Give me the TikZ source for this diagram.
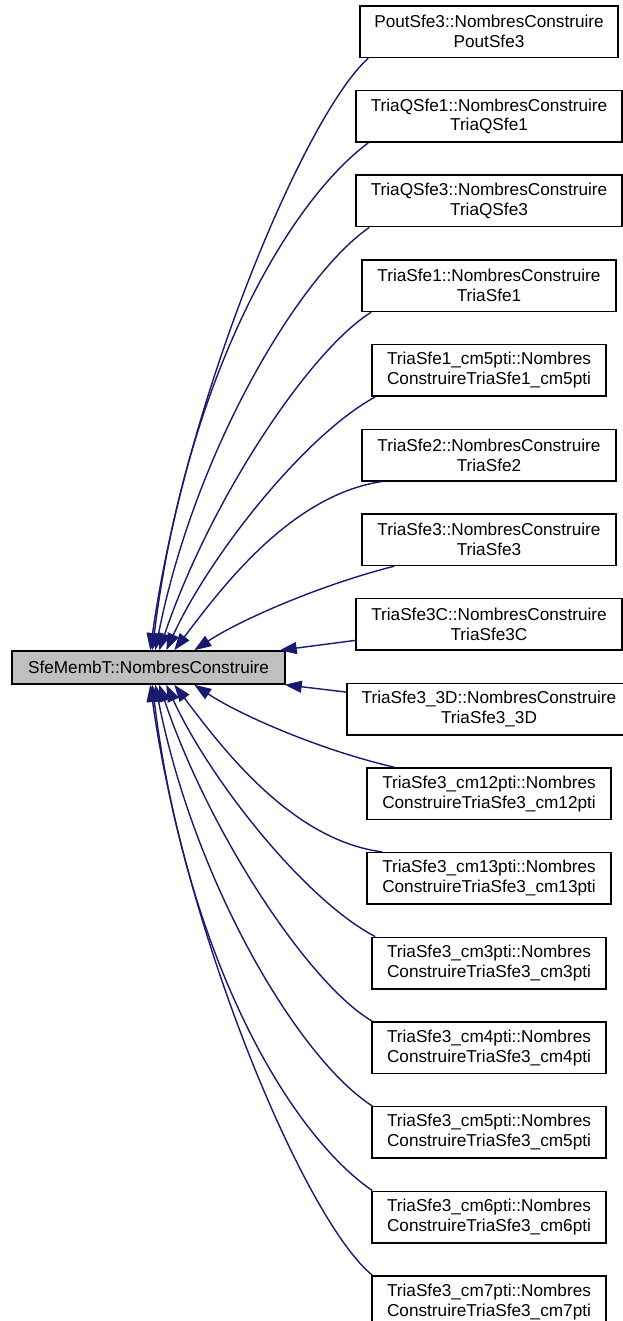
\documentclass[tikz,border=0pt]{standalone}
\usepackage{fontspec}
\setmainfont{Liberation Sans}
\usetikzlibrary{arrows.meta}
\definecolor{edgeblue}{HTML}{191970}
\begin{document}
\begin{tikzpicture}[x=1pt,y=-1pt,
  box/.style={draw=black, line width=1.5pt, fill=white, minimum height=51.5pt,
    inner sep=0pt, align=center, font=\fontsize{17.2pt}{19.8pt}\selectfont},
  focus/.style={box, fill=black!25, minimum height=33pt, minimum width=273pt},
  call/.style={draw=edgeblue, line width=1.4pt, -{Triangle[length=17pt,width=12pt]}}
]
\useasboundingbox[fill=white] (0,0) rectangle (622,1321);

% the called function
\node[focus] (m) at (148.5,667.5) {SfeMembT::NombresConstruire};

% callers, one column
\node[box, minimum width=258pt] (b1)  at (489,31.7)   {PoutSfe3::NombresConstruire\\PoutSfe3};
\node[box, minimum width=266pt] (b2)  at (489,116.4)  {TriaQSfe1::NombresConstruire\\TriaQSfe1};
\node[box, minimum width=266pt] (b3)  at (489,201.0)  {TriaQSfe3::NombresConstruire\\TriaQSfe3};
\node[box, minimum width=254pt] (b4)  at (489,285.7)  {TriaSfe1::NombresConstruire\\TriaSfe1};
\node[box, minimum width=234pt] (b5)  at (489,370.4)  {TriaSfe1\_cm5pti::Nombres\\ConstruireTriaSfe1\_cm5pti};
\node[box, minimum width=254pt] (b6)  at (489,455.0)  {TriaSfe2::NombresConstruire\\TriaSfe2};
\node[box, minimum width=254pt] (b7)  at (489,539.7)  {TriaSfe3::NombresConstruire\\TriaSfe3};
\node[box, minimum width=266pt] (b8)  at (489,624.4)  {TriaSfe3C::NombresConstruire\\TriaSfe3C};
\node[box, minimum width=284pt] (b9)  at (489,709.1)  {TriaSfe3\_3D::NombresConstruire\\TriaSfe3\_3D};
\node[box, minimum width=244pt] (b10) at (489,793.7)  {TriaSfe3\_cm12pti::Nombres\\ConstruireTriaSfe3\_cm12pti};
\node[box, minimum width=244pt] (b11) at (489,878.4)  {TriaSfe3\_cm13pti::Nombres\\ConstruireTriaSfe3\_cm13pti};
\node[box, minimum width=234pt] (b12) at (489,963.1)  {TriaSfe3\_cm3pti::Nombres\\ConstruireTriaSfe3\_cm3pti};
\node[box, minimum width=234pt] (b13) at (489,1047.7) {TriaSfe3\_cm4pti::Nombres\\ConstruireTriaSfe3\_cm4pti};
\node[box, minimum width=234pt] (b14) at (489,1132.4) {TriaSfe3\_cm5pti::Nombres\\ConstruireTriaSfe3\_cm5pti};
\node[box, minimum width=234pt] (b15) at (489,1217.1) {TriaSfe3\_cm6pti::Nombres\\ConstruireTriaSfe3\_cm6pti};
\node[box, minimum width=234pt] (b16) at (489,1301.7) {TriaSfe3\_cm7pti::Nombres\\ConstruireTriaSfe3\_cm7pti};

% calls from above
\draw[call] ([xshift=9pt]b1.south west)  .. controls (305,115) and (185,400) .. ([xshift=139pt]m.north west);
\draw[call] ([xshift=13pt]b2.south west) .. controls (285,205) and (185,385) .. ([xshift=141pt]m.north west);
\draw[call] ([xshift=14pt]b3.south west) .. controls (300,275) and (195,450) .. ([xshift=144pt]m.north west);
\draw[call] ([xshift=10pt]b4.south west) .. controls (310,350) and (210,500) .. ([xshift=148pt]m.north west);
\draw[call] ([xshift=4pt]b5.south west)  .. controls (305,435) and (210,555) .. ([xshift=155pt]m.north west);
\draw[call] ([xshift=21pt]b6.south west) .. controls (290,495) and (220,590) .. ([xshift=163pt]m.north west);
\draw[call] ([xshift=33pt]b7.south west) .. controls (320,585) and (240,620) .. ([xshift=183pt]m.north west);
% nearly level calls
\draw[call] ([yshift=-16pt]b8.west) -- ([xshift=-6pt]m.north east);
\draw[call] ([yshift=17pt]b9.west)  -- ([xshift=-1pt]m.south east);
% calls from below
\draw[call] ([xshift=28pt]b10.north west) .. controls (320,750) and (240,715) .. ([xshift=183pt]m.south west);
\draw[call] ([xshift=16pt]b11.north west) .. controls (290,840) and (220,745) .. ([xshift=163pt]m.south west);
\draw[call] ([xshift=4pt]b12.north west)  .. controls (305,900) and (210,780) .. ([xshift=155pt]m.south west);
\draw[call] ([xshift=1pt]b13.north west)  .. controls (310,985) and (210,835) .. ([xshift=148pt]m.south west);
\draw[call] ([xshift=1pt]b14.north west)  .. controls (300,1060) and (195,885) .. ([xshift=144pt]m.south west);
\draw[call] ([xshift=1pt]b15.north west)  .. controls (285,1130) and (185,950) .. ([xshift=141pt]m.south west);
\draw[call] ([xshift=1pt]b16.north west)  .. controls (305,1220) and (185,935) .. ([xshift=139pt]m.south west);
\end{tikzpicture}
\end{document}
